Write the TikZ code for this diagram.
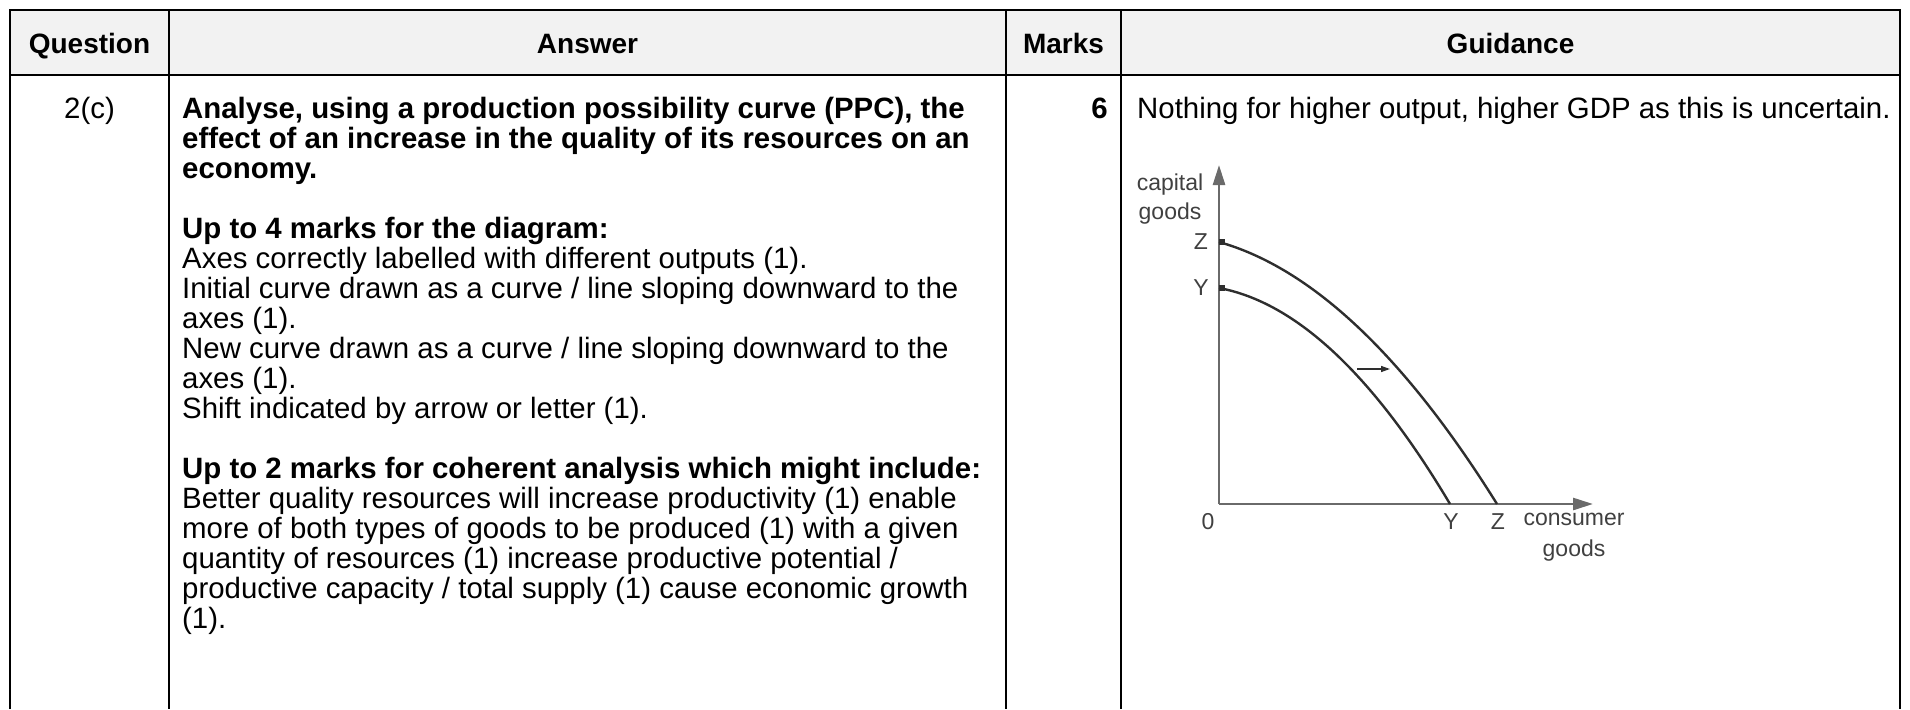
\documentclass[tikz,border=0pt]{standalone}
\usepackage{fontspec}
\setmainfont{Liberation Sans}
\usetikzlibrary{arrows.meta}
\definecolor{headgray}{HTML}{F2F2F2}
\definecolor{axisgray}{HTML}{6A6A6A}
\definecolor{curvegray}{HTML}{2E2E2E}
\definecolor{labelgray}{HTML}{404040}
\begin{document}
\begin{tikzpicture}[x=1pt,y=-1pt,
  grid/.style={line width=1.8pt, black},
  body/.style={anchor=base west, inner sep=0pt, font=\fontsize{29.4}{30}\selectfont},
  bodyb/.style={body, font=\fontsize{29.4}{30}\selectfont\bfseries},
  head/.style={anchor=base, inner sep=0pt, font=\fontsize{28}{30}\selectfont\bfseries},
  axis/.style={line width=2.6pt, axisgray, -{Triangle[length=20pt,width=12pt]}},
  ppc/.style={line width=2.4pt, curvegray},
  dlabel/.style={inner sep=0pt, text=labelgray, font=\fontsize{23}{29}\selectfont},
]
\useasboundingbox (0,0) rectangle (1910,709);
% header background
\fill[headgray] (10,10) rectangle (1900,75);
% grid
\draw[grid] (10,709) -- (10,10) -- (1900,10) -- (1900,709);
\draw[grid] (10,75) -- (1900,75);
\draw[grid] (169,10) -- (169,709);
\draw[grid] (1006,10) -- (1006,709);
\draw[grid] (1121,10) -- (1121,709);
% header texts
\node[head] (hq) at (89.5,53) {Question};
\node[head] (ha) at (587.5,53) {Answer};
\node[head] (hm) at (1063.5,53) {Marks};
\node[head] (hg) at (1510.5,53) {Guidance};
% question number and marks
\node[body, anchor=base] (q) at (89.5,118) {2(c)};
\node[bodyb, anchor=base east] (mk) at (1108,118) {6};
% answer text
\node[bodyb] (a1) at (182,118) {Analyse, using a production possibility curve (PPC), the};
\node[bodyb] (a2) at (182,148) {effect of an increase in the quality of its resources on an};
\node[bodyb] (a3) at (182,178) {economy.};
\node[bodyb] (a5) at (182,238) {Up to 4 marks for the diagram:};
\node[body] (a6) at (182,268) {Axes correctly labelled with different outputs (1).};
\node[body] (a7) at (182,298) {Initial curve drawn as a curve / line sloping downward to the};
\node[body] (a8) at (182,328) {axes (1).};
\node[body] (a9) at (182,358) {New curve drawn as a curve / line sloping downward to the};
\node[body] (a10) at (182,388) {axes (1).};
\node[body] (a11) at (182,418) {Shift indicated by arrow or letter (1).};
\node[bodyb] (a13) at (182,478) {Up to 2 marks for coherent analysis which might include:};
\node[body] (a14) at (182,508) {Better quality resources will increase productivity (1) enable};
\node[body] (a15) at (182,538) {more of both types of goods to be produced (1) with a given};
\node[body] (a16) at (182,568) {quantity of resources (1) increase productive potential /};
\node[body] (a17) at (182,598) {productive capacity / total supply (1) cause economic growth};
\node[body] (a18) at (182,628) {(1).};
% guidance
\node[body] (g1) at (1137,118) {Nothing for higher output, higher GDP as this is uncertain.};
% PPC diagram
\coordinate (O) at (1219,504);
\coordinate (ytop) at (1219,165);
\coordinate (xend) at (1593,504);
\coordinate (Zy) at (1219,242);
\coordinate (Yy) at (1219,288);
\coordinate (Yx) at (1450,504);
\coordinate (Zx) at (1497,504);
\coordinate (sa) at (1357,369);
\coordinate (sb) at (1390,369);
\draw[axis] (O) -- (ytop);
\draw[axis] (O) -- (xend);
\draw[ppc] (Yy) .. controls (1296,302.4) and (1373,374.4) .. (Yx);
\draw[ppc] (Zy) .. controls (1311.7,268.2) and (1404.3,355.5) .. (Zx);
\fill[curvegray] (Zy) ++(0,-3) rectangle ++(6,6);
\fill[curvegray] (Yy) ++(0,-3) rectangle ++(6,6);
\draw[line width=1.4pt, curvegray, -{Triangle[length=9pt,width=6pt]}] (sa) -- (sb);
\node[dlabel, align=center] (cap) at (1170,199.5) {capital\\goods};
\node[dlabel] (lz) at (1201,242) {Z};
\node[dlabel] (ly) at (1201,288) {Y};
\node[dlabel] (l0) at (1208,522) {0};
\node[dlabel] (lyx) at (1451,522) {Y};
\node[dlabel] (lzx) at (1498,522) {Z};
\node[dlabel, align=center, font=\fontsize{23}{31}\selectfont] (con) at (1574,537) {consumer\\goods};
\end{tikzpicture}
\end{document}
